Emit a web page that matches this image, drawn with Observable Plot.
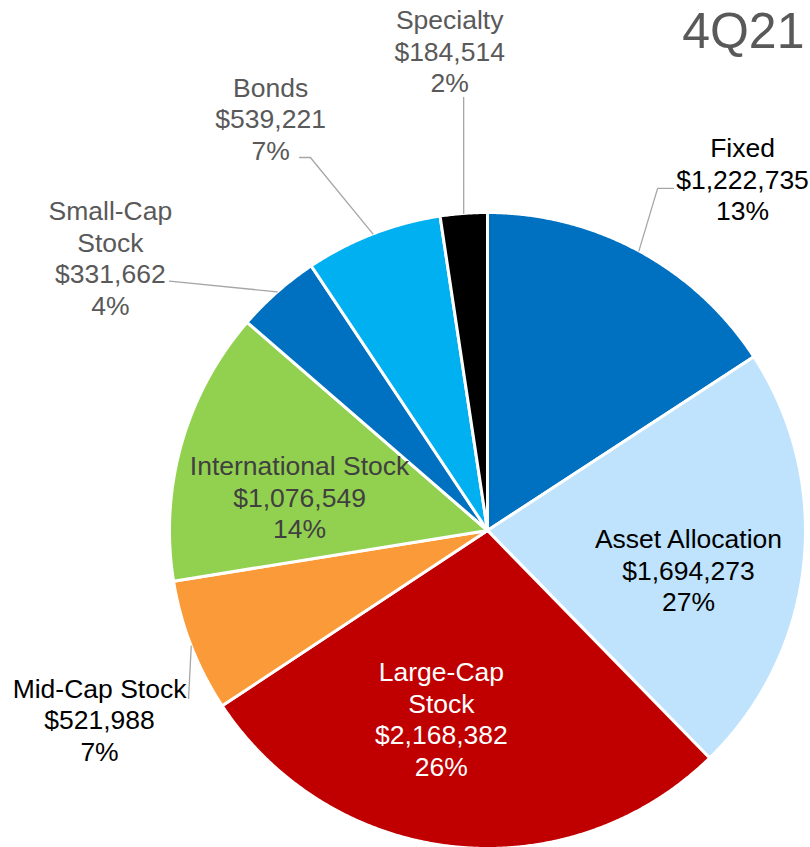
<!DOCTYPE html>
<html><head><meta charset="utf-8">
<script src="https://cdn.jsdelivr.net/npm/d3@7"></script>
<script src="https://cdn.jsdelivr.net/npm/@observablehq/plot@0.6"></script>
<style>html,body{margin:0;padding:0;background:#fff;}#chart svg{display:block;}</style>
</head><body><div id="chart"></div>
<script>
// ---- data ----
const categories = ["Fixed","Asset Allocation","Large-Cap Stock","Mid-Cap Stock","International Stock","Small-Cap Stock","Bonds","Specialty"];
const labelNames = ["Fixed","Asset Allocation","Large-Cap\nStock","Mid-Cap Stock","International Stock","Small-Cap\nStock","Bonds","Specialty"];
const values = [1222735,1694273,2168382,521988,1076549,331662,539221,184514];
const percentLabels = ["13%","27%","26%","7%","14%","4%","7%","2%"];
const title = "4Q21";

// ---- styling ----
const sliceColors = ["#0070C0","#BFE3FD","#C00000","#FB9A38","#92D050","#0070C0","#00B0F0","#000000"];
const textColors = ["#000000","#000000","#FFFFFF","#000000","#404040","#595959","#595959","#595959"];
// label block centres, in pie radii relative to the centre
const labelOffsets = [[0.802,1.107],[0.632,-0.123],[-0.145,-0.591],[-1.220,-0.594],[-0.591,0.107],[-1.186,0.858],[-0.682,1.296],[-0.119,1.509]];
// leader line bend points after the slice edge, in pie radii (null = no leader)
const leaderBends = [
  [[0.535,1.076],[0.585,1.076]],
  null, null,
  [[-0.940,-0.528]],
  null,
  [[-1.000,0.784]],
  [[-0.557,1.173],[-0.591,1.173]],
  [[-0.075,1.362]]
];

// ---- layout ----
const W = 810, H = 847, R = 318, CX = 487, CY = 530;

const pie = d3.pie().sort(null).value(d => d)(values);
const slicePts = [];
pie.forEach((p, i) => {
  slicePts.push({cat: categories[i], i, x: 0, y: 0});
  const n = Math.max(2, Math.ceil((p.endAngle - p.startAngle) / 0.005));
  for (let k = 0; k <= n; k++) {
    const a = p.startAngle + (p.endAngle - p.startAngle) * k / n;
    slicePts.push({cat: categories[i], i, x: Math.sin(a), y: Math.cos(a)});
  }
});

const leaderPts = [];
pie.forEach((p, i) => {
  if (!leaderBends[i]) return;
  const a = (p.startAngle + p.endAngle) / 2;
  leaderPts.push({cat: categories[i], x: Math.sin(a), y: Math.cos(a)});
  leaderBends[i].forEach(([x, y]) => leaderPts.push({cat: categories[i], x, y}));
});

const fmt = d3.format("$,");
const labels = categories.map((c, i) => ({
  cat: c,
  x: labelOffsets[i][0], y: labelOffsets[i][1],
  text: labelNames[i] + "\n" + fmt(values[i]) + "\n" + percentLabels[i],
  color: textColors[i]
}));

const chart = Plot.plot({
  width: W, height: H,
  margin: 0,
  style: {fontFamily: "'Liberation Sans', Arial, sans-serif", background: "#fff"},
  x: {domain: [-CX / R, (W - CX) / R], axis: null},
  y: {domain: [-(H - CY) / R, CY / R], axis: null},
  color: {type: "ordinal", domain: categories, range: sliceColors},
  marks: [
    Plot.line(slicePts, {x: "x", y: "y", z: "cat", fill: "cat", stroke: "#fff", strokeWidth: 3, curve: "linear-closed", strokeLinejoin: "round"}),
    Plot.line(leaderPts, {x: "x", y: "y", z: "cat", stroke: "#A6A6A6", strokeWidth: 1.3}),
    Plot.text(labels, {x: "x", y: "y", text: "text", fill: d => d.color, fontSize: 26.5, lineHeight: 1.19, lineAnchor: "middle", textAnchor: "middle"}),
    Plot.text([title], {frameAnchor: "top-right", dx: -6, dy: 12, lineAnchor: "top", fontSize: 50, fill: "#595959"})
  ]
});
document.getElementById("chart").append(chart);
</script>
</body></html>
